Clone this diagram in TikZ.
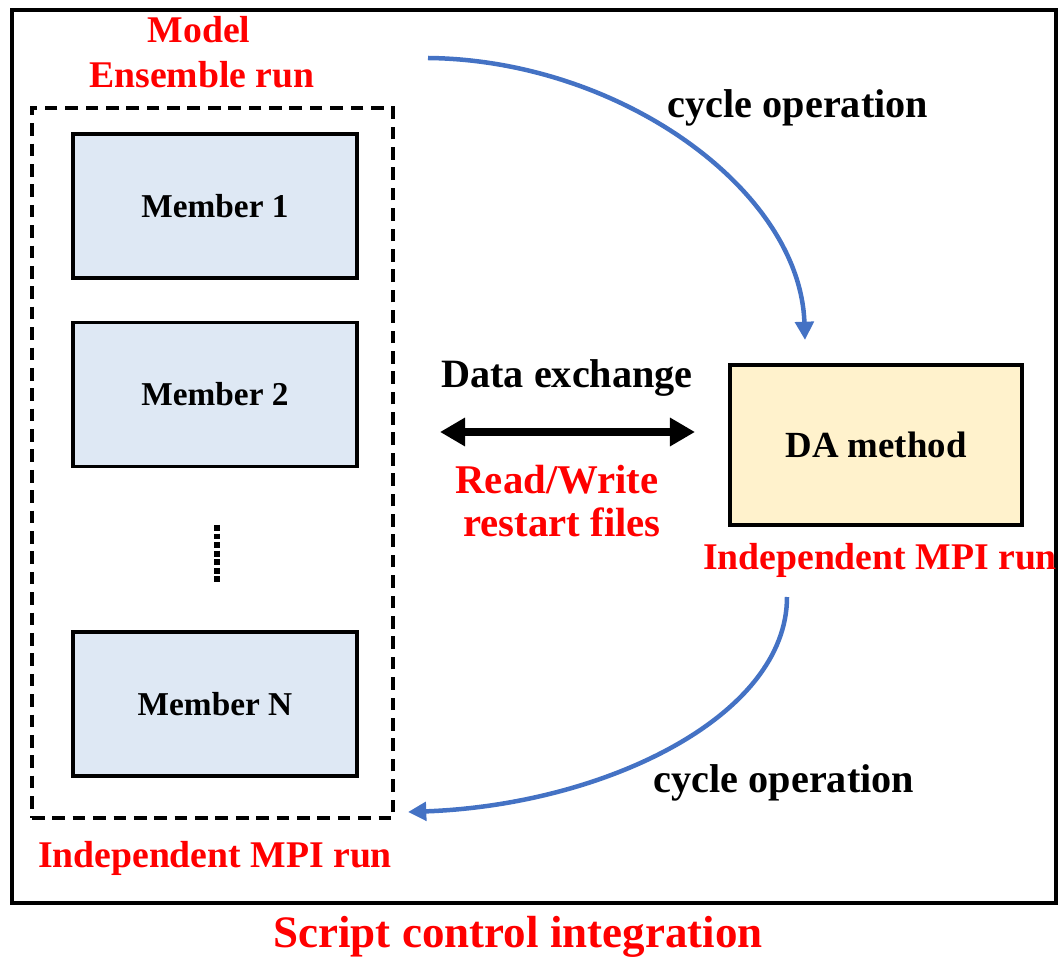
\documentclass[tikz,border=0pt]{standalone}
\usepackage{fontspec}
\setmainfont{Liberation Serif}
\usetikzlibrary{arrows.meta}
\usetikzlibrary{positioning}
\definecolor{memberfill}{HTML}{DEE8F4}
\definecolor{dafill}{HTML}{FFF2CC}
\definecolor{cycleblue}{HTML}{4472C4}

\begin{document}
\begin{tikzpicture}[line join=miter,x=0.025cm,y=-0.025cm,
  memberbox/.style={draw,line width=2.8pt,fill=memberfill,minimum width=7.1cm,minimum height=3.6cm,inner sep=0pt,font=\fontsize{23.7}{28}\selectfont\bfseries},
  dabox/.style={draw,line width=2.8pt,fill=dafill,minimum width=7.3cm,minimum height=4cm,inner sep=0pt,font=\fontsize{26.2}{30}\selectfont\bfseries},
  ensbox/.style={draw,line width=2.4pt,dash pattern=on 9pt off 5.5pt,minimum width=9.025cm,minimum height=17.75cm,inner sep=0pt},
  redlabel/.style={text=red,inner sep=0pt,anchor=base,font=\fontsize{26.8}{32}\selectfont\bfseries},
  rwlabel/.style={text=red,inner sep=0pt,anchor=base,font=\fontsize{29}{32}\selectfont\bfseries},
  blklabel/.style={inner sep=0pt,anchor=base,font=\fontsize{28.6}{32}\selectfont\bfseries},
  scriptlabel/.style={text=red,inner sep=0pt,anchor=base,font=\fontsize{32}{36}\selectfont\bfseries},
  cyclearrow/.style={draw=cycleblue,line width=3.2pt,-{Triangle[length=13pt,width=13pt]}},
  xarrow/.style={line width=5pt,{Triangle[length=17.8pt,width=19.2pt]}-{Triangle[length=17.8pt,width=19.2pt]}}]
\useasboundingbox (0,0) rectangle (1060,957);
\draw [line width=3.3pt] (12,10) rectangle (1056,903);
\node[redlabel] (model) at (199,43) {Model};
\node[redlabel] (ensemble) at (202,88) {Ensemble run};
\node[ensbox] (ens) at (212.5,463) {};
\node[memberbox] (m1) at (215,206) {Member 1};
\node[memberbox] (m2) at (215,394.5) {Member 2};
\node[memberbox] (mn) at (215,704) {Member N};
\draw [line width=4.8pt,dash pattern=on 4.2pt off 1.9pt] (217,525) -- (217,585);
\node[redlabel] (mpiens) at (215,867) {Independent MPI run};
\node[dabox] (da) at (876,445) {DA method};
\node[redlabel] (mpida) at (880,570) {Independent MPI run};
\node[blklabel] (xlabel) at (567,388) {Data exchange};
\node[rwlabel] (rw) at (557,494) {Read/Write};
\node[rwlabel] (rf) at (562,537) {restart files};
\node[blklabel] (cycletop) at (798,118) {cycle operation};
\node[blklabel] (cyclebot) at (784,792) {cycle operation};
\node[scriptlabel] (script) at (518,947) {Script control integration};
\coordinate (xa) at (440,432);
\coordinate (xb) at (695,432);
\draw [xarrow] (xa) -- (xb);
\coordinate (topstart) at (428,58);
\coordinate (topend) at (805,340);
\draw [cyclearrow] (topstart) .. controls (620,60) and (800,190) .. (topend);
\coordinate (botstart) at (787,597);
\coordinate (botend) at (408,812);
\draw [cyclearrow] (botstart) .. controls (787,716) and (605,805) .. (botend);
\end{tikzpicture}
\end{document}
